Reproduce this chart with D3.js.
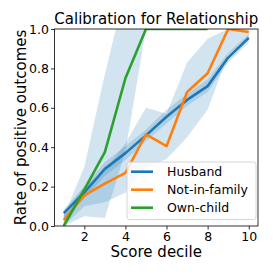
<!DOCTYPE html>
<html>
<head>
<meta charset="utf-8">
<script src="https://cdn.jsdelivr.net/npm/d3@7"></script>
<style>
  body { margin: 0; background: #fff; }
  svg { font-family: "DejaVu Sans", sans-serif; }
</style>
</head>
<body>
<svg id="chart" width="275" height="275"></svg>
<script>
// score deciles
var deciles = [1, 2, 3, 4, 5, 6, 7, 8, 9, 10];
var ownChildDeciles = [1, 2, 3, 4, 5, 6, 7, 8];

// rate of positive outcomes per group
var husband = [0.065, 0.17, 0.29, 0.37, 0.46, 0.555, 0.64, 0.71, 0.855, 0.955];
var notInFamily = [0.03, 0.155, 0.215, 0.27, 0.465, 0.405, 0.68, 0.775, 1.0, 0.985];
var ownChild = [0.0, 0.185, 0.375, 0.75, 1.0, 1.0, 1.0, 1.0];

// confidence bands
var husbandLow = [0.04, 0.14, 0.255, 0.335, 0.43, 0.52, 0.61, 0.68, 0.83, 0.93];
var husbandHigh = [0.085, 0.2, 0.325, 0.405, 0.49, 0.59, 0.67, 0.745, 0.88, 0.975];
var notInFamilyLow = [0.0, 0.1, 0.12, 0.17, 0.3, 0.34, 0.45, 0.59, 0.87, 0.95];
var notInFamilyHigh = [0.06, 0.2, 0.28, 0.42, 0.6, 0.57, 0.83, 0.95, 1.0, 1.0];
var ownChildLow = [0.0, 0.05, 0.04, 0.38, 1.0, 1.0, 1.0, 1.0];
var ownChildHigh = [0.05, 0.3, 0.77, 1.2, 1.0, 1.0, 1.0, 1.0];

var xTicks = [2, 4, 6, 8, 10];
var yTicks = [0, 0.2, 0.4, 0.6, 0.8, 1.0];

var series = [
    { name: 'Husband', color: '#1f77b4', x: deciles, y: husband, lo: husbandLow, hi: husbandHigh },
    { name: 'Not-in-family', color: '#ff7f0e', x: deciles, y: notInFamily, lo: notInFamilyLow, hi: notInFamilyHigh },
    { name: 'Own-child', color: '#2ca02c', x: ownChildDeciles, y: ownChild, lo: ownChildLow, hi: ownChildHigh }
];

var plotLeft = 54.5, plotRight = 258, plotTop = 29, plotBottom = 226;

var svg = d3.select('#chart');

var xScale = d3.scaleLinear().domain([0.55, 10.45]).range([plotLeft, plotRight]);
var yScale = d3.scaleLinear().domain([0, 1]).range([plotBottom, plotTop]);

svg.append('clipPath').attr('id', 'plot-clip')
    .append('rect')
    .attr('x', plotLeft).attr('y', plotTop)
    .attr('width', plotRight - plotLeft).attr('height', plotBottom - plotTop);

var plot = svg.append('g').attr('clip-path', 'url(#plot-clip)');

var area = d3.area()
    .x(function (d) { return xScale(d.x); })
    .y0(function (d) { return yScale(d.lo); })
    .y1(function (d) { return yScale(d.hi); });

var line = d3.line()
    .x(function (d) { return xScale(d.x); })
    .y(function (d) { return yScale(d.y); });

var rows = function (s) {
    return s.x.map(function (x, i) {
        return { x: x, y: s.y[i], lo: s.lo[i], hi: s.hi[i] };
    });
};

// bands, all in the default blue
series.forEach(function (s) {
    plot.append('path')
        .attr('d', area(rows(s)))
        .attr('fill', '#1f77b4')
        .attr('fill-opacity', 0.2);
});

series.forEach(function (s) {
    plot.append('path')
        .attr('d', line(rows(s)))
        .attr('fill', 'none')
        .attr('stroke', s.color)
        .attr('stroke-width', 2.6)
        .attr('stroke-linejoin', 'round');
});

// axes
var xAxis = svg.append('g')
    .attr('transform', 'translate(0,' + plotBottom + ')')
    .call(d3.axisBottom(xScale).tickValues(xTicks).tickSize(3.5).tickPadding(3).tickFormat(d3.format('d')));
var yAxis = svg.append('g')
    .attr('transform', 'translate(' + plotLeft + ',0)')
    .call(d3.axisLeft(yScale).tickValues(yTicks).tickSize(3.5).tickPadding(2).tickFormat(d3.format('.1f')));

[xAxis, yAxis].forEach(function (a) {
    a.select('.domain').remove();
    a.selectAll('.tick line').attr('stroke', '#000').attr('stroke-width', 0.8);
    a.selectAll('.tick text')
        .attr('font-size', 12.5)
        .attr('font-family', 'DejaVu Sans')
        .attr('fill', '#000');
});

svg.append('rect')
    .attr('x', plotLeft).attr('y', plotTop)
    .attr('width', plotRight - plotLeft).attr('height', plotBottom - plotTop)
    .attr('fill', 'none')
    .attr('stroke', '#000')
    .attr('stroke-width', 0.8);

// legend
var legend = svg.append('g');
legend.append('rect')
    .attr('x', 127).attr('y', 162)
    .attr('width', 129).attr('height', 57.5)
    .attr('rx', 2.5)
    .attr('fill', '#fff').attr('fill-opacity', 0.8)
    .attr('stroke', '#cccccc').attr('stroke-width', 0.8);

series.forEach(function (s, i) {
    var y = 171.7 + i * 18;
    legend.append('line')
        .attr('x1', 131).attr('x2', 153)
        .attr('y1', y).attr('y2', y)
        .attr('stroke', s.color).attr('stroke-width', 2.6);
    legend.append('text')
        .attr('x', 167).attr('y', y + 4.5)
        .attr('font-size', 12.5)
        .text(s.name);
});

// titles
svg.append('text')
    .attr('x', (plotLeft + plotRight) / 2).attr('y', 24)
    .attr('text-anchor', 'middle')
    .attr('font-size', 15)
    .text('Calibration for Relationship');

svg.append('text')
    .attr('x', (plotLeft + plotRight) / 2).attr('y', 257)
    .attr('text-anchor', 'middle')
    .attr('font-size', 15)
    .text('Score decile');

svg.append('text')
    .attr('transform', 'translate(26,' + ((plotTop + plotBottom) / 2) + ') rotate(-90)')
    .attr('text-anchor', 'middle')
    .attr('font-size', 15)
    .text('Rate of positive outcomes');
</script>
</body>
</html>
